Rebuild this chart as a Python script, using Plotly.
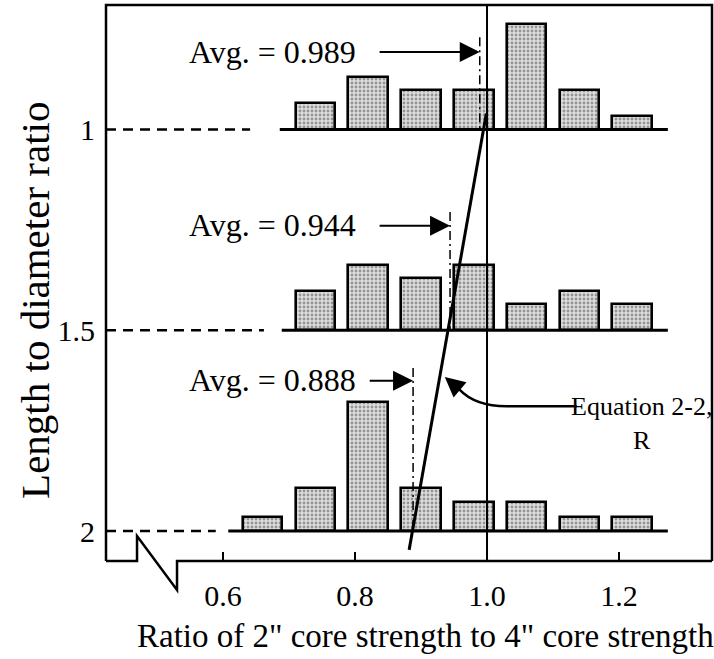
import plotly.graph_objects as go

# ---- data -------------------------------------------------------------
# centres of the 0.08-wide classes of the strength ratio
bin_centers = [0.66, 0.74, 0.82, 0.90, 0.98, 1.06, 1.14, 1.22]
ld_levels = [1.0, 1.5, 2.0]
ld_tick_text = ["1", "1.5", "2"]
# number of cores in each class, one list per L/D level
counts_ld1 = [0, 2, 4, 3, 3, 8, 3, 1]
counts_ld15 = [0, 3, 5, 4, 5, 2, 3, 2]
counts_ld2 = [1, 3, 9, 3, 2, 2, 1, 1]
averages = [0.989, 0.944, 0.888]
avg_labels = ["Avg. = 0.989", "Avg. = 0.944", "Avg. = 0.888"]
x_tick_vals = [0.6, 0.8, 1.0, 1.2]
x_tick_text = ["0.6", "0.8", "1.0", "1.2"]
x_title = "Ratio of 2\" core strength to 4\" core strength"
y_title = "Length to diameter ratio"
# Equation 2-2 (R): strength ratio against L/D
eq_ld = [2.047, 0.96]
eq_ratio = [0.882, 0.999]

# ---- styling ----------------------------------------------------------
FONT = "Liberation Serif"
HEIGHT_PER_PCT = 0.00785   # L/D units of bar height per percent of cores
BAR_WIDTH = 0.06
X_RANGE = [0.4227, 1.3409]
Y_RANGE = [2.0747, 0.6899]  # reversed: L/D = 1 at the top

fig = go.Figure()

all_counts = [counts_ld1, counts_ld15, counts_ld2]
for ld, counts in zip(ld_levels, all_counts):
    total = sum(counts)
    xs, hs = [], []
    for c, n in zip(bin_centers, counts):
        if n > 0:
            xs.append(c)
            hs.append(-100.0 * n / total * HEIGHT_PER_PCT)
    fig.add_trace(go.Bar(
        x=xs, y=hs, base=ld, width=BAR_WIDTH,
        marker=dict(
            color="#c8c8c8",
            pattern=dict(shape=".", fgcolor="#4a4a4a", bgcolor="#dedede",
                         size=4, solidity=0.4),
            line=dict(color="black", width=2.6),
        ),
        showlegend=False, hoverinfo="skip",
    ))

shapes = []

# frame (left, top, right) and the broken bottom axis
frame_pts = [
    [(0, 0), (0, 1), (1, 1), (1, 0)],
    [(0, 0), (0.0512, 0), (0.0512, 0.045), (0.1172, -0.052), (0.1172, 0), (1, 0)],
]
for pts in frame_pts:
    path = "M " + " L ".join(f"{x},{y}" for x, y in pts)
    shapes.append(dict(type="path", path=path, xref="paper", yref="paper",
                       line=dict(color="black", width=2.5)))

# vertical reference at ratio = 1.0
shapes.append(dict(type="line", x0=1.0, x1=1.0, y0=0, y1=1, xref="x", yref="paper",
                   line=dict(color="black", width=2)))

# baselines: dashed lead-in from the frame, then a solid base under the bars
dash_end = [0.641, 0.662, 0.589]
solid_start = [0.686, 0.689, 0.608]
for ld, de, ss in zip(ld_levels, dash_end, solid_start):
    shapes.append(dict(type="line", x0=X_RANGE[0], x1=de, y0=ld, y1=ld,
                       xref="x", yref="y",
                       line=dict(color="black", width=2.5, dash="10px,7px")))
    shapes.append(dict(type="line", x0=ss, x1=1.274, y0=ld, y1=ld,
                       xref="x", yref="y", line=dict(color="black", width=3)))

# dash-dot markers of the averages
avg_top = [0.77, 1.2055, 1.594]
for ld, avg, top in zip(ld_levels, averages, avg_top):
    shapes.append(dict(type="line", x0=avg, x1=avg, y0=top, y1=ld,
                       xref="x", yref="y",
                       line=dict(color="black", width=1.5, dash="9px,4px,2px,4px")))

# Equation 2-2 line
shapes.append(dict(type="line", x0=eq_ratio[0], x1=eq_ratio[1], y0=eq_ld[0], y1=eq_ld[1],
                   xref="x", yref="y", line=dict(color="black", width=3)))

# curved leader from the equation label
shapes.append(dict(type="path", xref="x", yref="y",
                   path="M 1.136,1.689 L 1.03,1.689 Q 0.982,1.689 0.958,1.647",
                   line=dict(color="black", width=2.5)))

annotations = []
label_y = [0.807, 1.238, 1.624]
arrow_y = [0.807, 1.240, 1.626]
arrow_tail = [0.835, 0.835, 0.820]
for text, avg, ly, ay, tail in zip(avg_labels, averages, label_y, arrow_y, arrow_tail):
    annotations.append(dict(x=0.545, y=ly, xref="x", yref="y", text=text,
                            showarrow=False, xanchor="left", yanchor="middle",
                            font=dict(family=FONT, size=32, color="black")))
    annotations.append(dict(x=avg, y=ay, ax=tail, ay=ay, xref="x", yref="y",
                            axref="x", ayref="y", text="", showarrow=True,
                            arrowhead=2, arrowsize=2.0, arrowwidth=2,
                            arrowcolor="black", standoff=0))

annotations.append(dict(x=1.235, y=1.731, xref="x", yref="y",
                        text="Equation 2-2,<br>R", showarrow=False,
                        xanchor="center", yanchor="middle", align="center",
                        font=dict(family=FONT, size=26, color="black")))
annotations.append(dict(x=0.936, y=1.6164, ax=0.958, ay=1.647, xref="x", yref="y",
                        axref="x", ayref="y", text="", showarrow=True,
                        arrowhead=2, arrowsize=1.6, arrowwidth=2.5,
                        arrowcolor="black", standoff=0))

# axis titles
annotations.append(dict(x=0.528, y=-0.135, xref="paper", yref="paper", text=x_title,
                        showarrow=False, xanchor="center", yanchor="middle",
                        font=dict(family=FONT, size=33, color="black")))
annotations.append(dict(x=-0.117, y=0.468, xref="paper", yref="paper", text=y_title,
                        showarrow=False, textangle=-90, xanchor="center", yanchor="middle",
                        font=dict(family=FONT, size=41, color="black")))

fig.update_layout(
    width=714, height=659,
    margin=dict(l=106, r=2, t=5, b=98),
    paper_bgcolor="white", plot_bgcolor="white",
    barmode="overlay", bargap=0,
    shapes=shapes, annotations=annotations,
    font=dict(family=FONT, color="black"),
    xaxis=dict(
        range=X_RANGE, tickvals=x_tick_vals, ticktext=x_tick_text,
        ticks="inside", ticklen=9, tickwidth=2, tickcolor="black",
        showline=False, showgrid=False, zeroline=False,
        tickfont=dict(family=FONT, size=30, color="black"),
        ticklabelstandoff=14,
    ),
    yaxis=dict(
        range=Y_RANGE, tickvals=ld_levels, ticktext=ld_tick_text,
        ticks="", showline=False, showgrid=False, zeroline=False,
        tickfont=dict(family=FONT, size=30, color="black"),
        ticklabelstandoff=10,
    ),
)

fig.write_html("out.html")
